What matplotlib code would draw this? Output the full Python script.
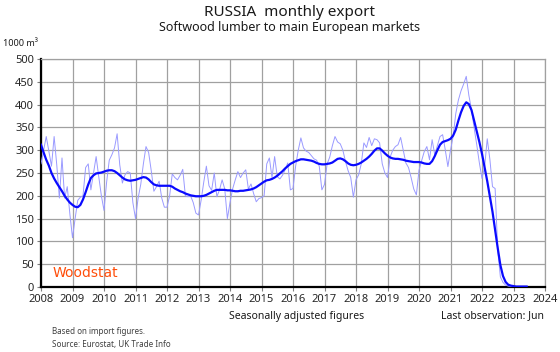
import numpy as np
import matplotlib
matplotlib.use("Agg")
import matplotlib.pyplot as plt

plt.rcParams["font.family"] = ["Noto Sans", "DejaVu Sans"]

START_YEAR = 2008

# monthly exports, 1000 m3, Jan 2008 .. Jun 2023
raw = [
    270, 300, 330, 297, 265, 330, 268, 195, 283, 195, 220, 160,   # 2008
    108, 150, 190, 197, 200, 262, 270, 213, 250, 286, 242, 200,   # 2009
    168, 230, 278, 290, 305, 336, 268, 228, 246, 253, 250, 185,   # 2010
    150, 195, 225, 270, 308, 295, 255, 210, 220, 232, 195, 175,   # 2011
    175, 200, 248, 240, 235, 245, 258, 200, 198, 200, 185, 162,   # 2012
    158, 190, 230, 265, 222, 212, 250, 198, 213, 235, 215, 150,   # 2013
    185, 215, 235, 253, 240, 250, 257, 215, 226, 205, 187, 194,   # 2014
    196, 200, 270, 283, 240, 286, 242, 237, 245, 257, 272, 213,   # 2015
    216, 265, 300, 327, 305, 298, 295, 288, 281, 278, 265, 213,   # 2016
    225, 270, 285, 310, 330, 318, 314, 300, 275, 255, 240, 197,   # 2017
    235, 246, 270, 316, 306, 328, 310, 325, 323, 316, 270, 250,   # 2018
    240, 285, 300, 308, 312, 328, 300, 272, 262, 240, 215, 202,   # 2019
    256, 277, 297, 308, 279, 323, 290, 310, 330, 334, 301, 264,   # 2020
    300, 330, 380, 410, 430, 445, 462, 420, 389, 349, 312, 272,   # 2021
    238, 264, 325, 280, 220, 216, 80, 22, 10, 4, 2, 1,            # 2022
    1, 1, 1, 1, 1, 1,                                             # 2023
]

# seasonally adjusted trend
trend = [
    312, 295, 279, 266, 250, 238, 228, 219, 210, 200, 192, 185,
    180, 176, 175, 180, 192, 208, 225, 239, 245, 249, 250, 251,
    253, 255, 256, 256, 254, 250, 245, 240, 236, 234, 233, 234,
    235, 237, 239, 241, 240, 236, 230, 225, 223, 222, 222, 222,
    222, 222, 220, 216, 213, 210, 208, 205, 203, 201, 200, 199,
    199, 199, 200, 202, 205, 208, 211, 213, 213, 213, 213, 212,
    212, 211, 210, 210, 211, 211, 212, 213, 214, 216, 219, 223,
    227, 231, 234, 235, 237, 240, 244, 249, 254, 260, 265, 270,
    273, 276, 278, 280, 280, 279, 278, 277, 275, 272, 270, 269,
    269, 270, 271, 273, 277, 281, 282, 280, 276, 271, 268, 267,
    268, 270, 273, 277, 281, 286, 292, 299, 304, 304, 299, 293,
    288, 284, 282, 281, 281, 280, 279, 277, 276, 275, 274, 274,
    274, 273, 271, 270, 270, 276, 287, 300, 312, 318, 320, 322,
    325, 332, 345, 365, 383, 397, 405, 401, 388, 365, 342, 318,
    292, 262, 232, 198, 165, 125, 85, 48, 24, 11, 5, 3,
    2, 1, 1, 1, 1, 1,
]

years = list(range(2008, 2025))
yticks = list(range(0, 501, 50))

t = START_YEAR + np.arange(len(raw)) / 12.0

fig = plt.figure(figsize=(5.6, 3.52), dpi=100)
ax = fig.add_axes([41 / 560, 65 / 352, 504 / 560, 228 / 352])

ax.plot(t, raw, color="#9a9aff", lw=0.7, zorder=3)
ax.plot(t, trend, color="#0a0aff", lw=1.6, zorder=4)

ax.set_xlim(2008, 2024)
ax.set_ylim(0, 500)
ax.set_xticks(years)
ax.set_yticks(yticks)
ax.grid(True, color="#a0a0a0", lw=0.9)
ax.tick_params(axis="both", labelsize=8, color="#808080", length=3, width=0.8,
               labelcolor="#262626", pad=2)

for s in ("top", "right"):
    ax.spines[s].set_color("#a0a0a0")
    ax.spines[s].set_linewidth(0.9)
for s in ("left", "bottom"):
    ax.spines[s].set_color("black")
    ax.spines[s].set_linewidth(1.6)

fig.text(290 / 560, 1 - 12 / 352, "RUSSIA  monthly export", ha="center", va="center",
         fontsize=11, color="#1a1a1a")
fig.text(290 / 560, 1 - 28 / 352, "Softwood lumber to main European markets", ha="center",
         va="center", fontsize=9, color="#1a1a1a")
fig.text(3 / 560, 1 - 44 / 352, "1000 m³", ha="left", va="center", fontsize=6.5,
         color="#1a1a1a")

ax.text(0.022, 0.062, "Woodstat", transform=ax.transAxes, ha="left", va="center",
        fontsize=10, color="#ff4e0a", fontfamily="DejaVu Sans")

fig.text(297 / 560, 1 - 316 / 352, "Seasonally adjusted figures", ha="center", va="center",
         fontsize=7.5, color="#1a1a1a")
fig.text(544 / 560, 1 - 316 / 352, "Last observation: Jun", ha="right", va="center",
         fontsize=7.5, color="#1a1a1a")
fig.text(52 / 560, 1 - 332 / 352, "Based on import figures.", ha="left", va="center",
         fontsize=5.8, color="#404040")
fig.text(52 / 560, 1 - 345 / 352, "Source: Eurostat, UK Trade Info", ha="left", va="center",
         fontsize=5.8, color="#404040")

fig.savefig("out.png", dpi=100, facecolor="white")
